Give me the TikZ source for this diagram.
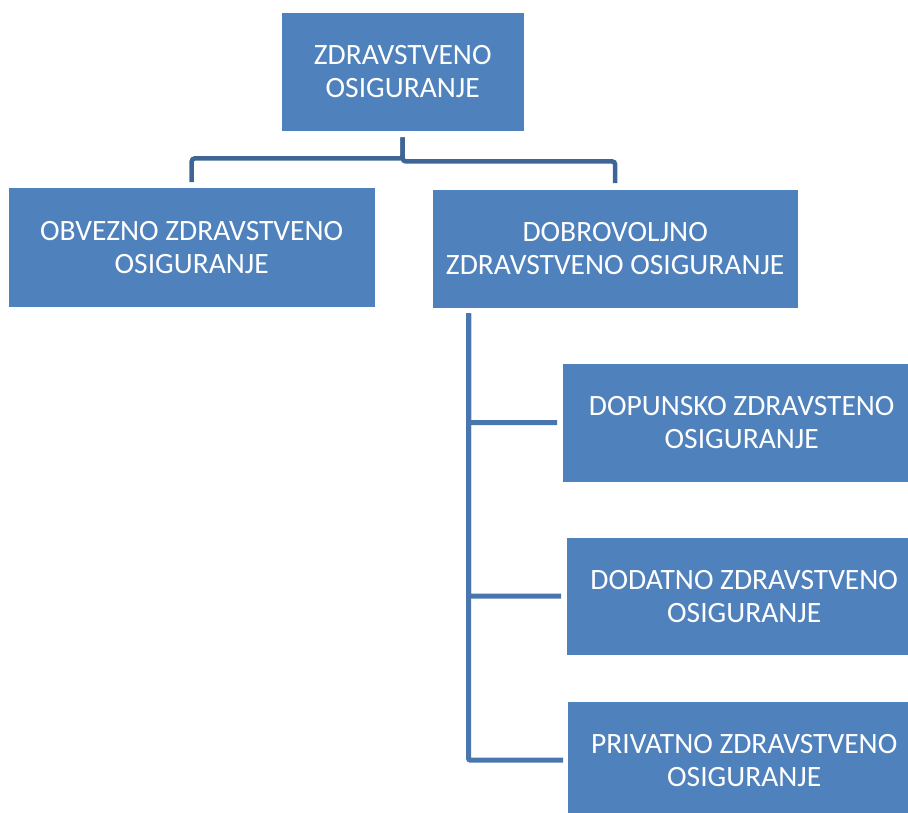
\documentclass[tikz,border=0pt]{standalone}
\usepackage{fontspec}
\setmainfont{Carlito}
\definecolor{okvir}{RGB}{79,129,189}
\definecolor{vezatamna}{RGB}{62,101,150}
\definecolor{vezasvijetla}{RGB}{74,118,175}
\tikzset{
  osig_box/.style = {align=center, inner sep=0pt, text centered,
    fill=okvir, draw=okvir, text=white, anchor=north west,
    font=\fontsize{29.5}{33}\selectfont},% kutija
  veza_gore/.style = {draw=vezatamna, line width=4.5pt, rounded corners=3pt},% veza od vrha
  veza_desno/.style = {draw=vezasvijetla, line width=5pt, rounded corners=2pt},% veza s desne strane
}
\begin{document}
\begin{tikzpicture}[x=1pt,y=-1pt]
\useasboundingbox (0,0) rectangle (908,812);
\node [osig_box, minimum width=241pt, minimum height=117pt] (zdr) at (282,13) {ZDRAVSTVENO\\OSIGURANJE};
\node [osig_box, minimum width=365pt, minimum height=118pt] (obv) at (9,188) {OBVEZNO ZDRAVSTVENO\\OSIGURANJE};
\node [osig_box, minimum width=364pt, minimum height=117pt] (dob) at (433,190) {DOBROVOLJNO\\ZDRAVSTVENO OSIGURANJE};
\node [osig_box, minimum width=357pt, minimum height=117pt] (dop) at (563,364) {DOPUNSKO ZDRAVSTENO\\OSIGURANJE};
\node [osig_box, minimum width=354pt, minimum height=116pt] (dod) at (567,538) {DODATNO ZDRAVSTVENO\\OSIGURANJE};
\node [osig_box, minimum width=352pt, minimum height=116pt] (pri) at (568,702) {PRIVATNO ZDRAVSTVENO\\OSIGURANJE};
% veze od vrha
\draw [veza_gore] ([yshift=-7pt]zdr.south) -- ([yshift=-28pt]zdr.south) -| ([yshift=6pt]obv.north);
\draw [veza_gore] ([yshift=-7pt]zdr.south) -- ([yshift=-31pt]zdr.south) -| ([yshift=7pt]dob.north);
% veze dobrovoljnog
\draw [veza_desno] ([xshift=35.5pt,yshift=-6pt]dob.south west) |- ([xshift=-6pt]dop.west);
\draw [veza_desno] ([xshift=35.5pt,yshift=-6pt]dob.south west) |- ([xshift=-6pt]dod.west);
\draw [veza_desno] ([xshift=35.5pt,yshift=-6pt]dob.south west) |- ([xshift=-5pt]pri.west);
\end{tikzpicture}
\end{document}
